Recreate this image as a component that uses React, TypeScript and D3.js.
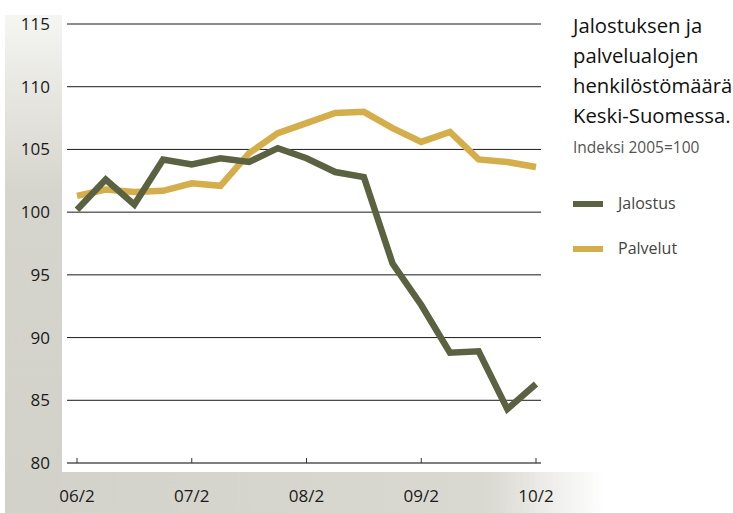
import React from "react";
import * as d3 from "d3";

const quarters = [
  "06/2","06/3","06/4","07/1","07/2","07/3","07/4","08/1","08/2","08/3","08/4","09/1","09/2","09/3","09/4","10/1","10/2",
];
const jalostus = [100.2, 102.6, 100.6, 104.2, 103.8, 104.3, 104.0, 105.1, 104.3, 103.2, 102.8, 95.9, 92.6, 88.8, 88.9, 84.3, 86.3];
const palvelut = [101.3, 101.8, 101.6, 101.7, 102.3, 102.1, 104.7, 106.3, 107.1, 107.9, 108.0, 106.7, 105.6, 106.4, 104.2, 104.0, 103.6];
const yTicks = [80, 85, 90, 95, 100, 105, 110, 115];
const xTickLabels = ["06/2", "07/2", "08/2", "09/2", "10/2"];
const titleLines = ["Jalostuksen ja", "palvelualojen", "henkilöstömäärä", "Keski-Suomessa."];
const subtitle = "Indeksi 2005=100";
const seriesNames = ["Jalostus", "Palvelut"];
const colors = ["#5b6242", "#d5ae4c"];

const W = 733, H = 513;
const FONT = "'Open Sans', 'Noto Sans', sans-serif";

export default function App() {
  const x = d3.scaleLinear().domain([0, quarters.length - 1]).range([77, 536]);
  const y = d3.scaleLinear().domain([80, 115]).range([463, 24]);
  const line = d3
    .line<number>()
    .x((_, i) => x(i))
    .y((d) => y(d))
    .curve(d3.curveLinear);
  const series = [jalostus, palvelut];
  return (
    <svg width={W} height={H} style={{ position: "absolute", left: 0, top: 0, fontFamily: FONT }}>
      <defs>
        <linearGradient id="leftg" x1="0" y1="0" x2="0" y2="1">
          <stop offset="0" stopColor="#f5f5f2" />
          <stop offset="0.35" stopColor="#d6d5cd" />
          <stop offset="1" stopColor="#d3d2ca" />
        </linearGradient>
        <linearGradient id="botg" x1="0" y1="0" x2="1" y2="0">
          <stop offset="0" stopColor="#d3d2ca" />
          <stop offset="0.8" stopColor="#d9d8d1" />
          <stop offset="1" stopColor="#ffffff" />
        </linearGradient>
      </defs>
      <rect x={5} y={15} width={57} height={H - 15} fill="url(#leftg)" />
      <rect x={5} y={472} width={600} height={H - 472} fill="url(#botg)" />
      <rect x={5} y={472} width={57} height={H - 472} fill="#d3d2ca" />
      {yTicks.map((t) => (
        <g key={t}>
          <line x1={67} x2={541} y1={y(t)} y2={y(t)} stroke={t === 80 ? "#555" : "#1a1a1a"} strokeWidth={t === 80 ? 1.5 : 1} />
          <text x={50} y={y(t) + 6} textAnchor="end" fontSize={17} fill="#1a1a1a">
            {t}
          </text>
        </g>
      ))}
      {xTickLabels.map((lab) => {
        const i = quarters.indexOf(lab);
        return (
          <g key={lab}>
            <line x1={x(i)} x2={x(i)} y1={463} y2={458} stroke="#333" strokeWidth={1} />
            <text x={x(i)} y={502} textAnchor="middle" fontSize={17} fill="#1a1a1a">
              {lab}
            </text>
          </g>
        );
      })}
      {series.map((s, k) => (
        <path key={k} d={line(s) || ""} fill="none" stroke={colors[k]} strokeWidth={6.5} strokeLinejoin="miter" strokeLinecap="butt" />
      )).reverse()}
      {titleLines.map((t, i) => (
        <text key={t} x={573} y={33 + i * 30} fontSize={20.3} fill="#111">
          {t}
        </text>
      ))}
      <text x={573} y={153} fontSize={15.5} fill="#555">
        {subtitle}
      </text>
      {seriesNames.map((n, k) => (
        <g key={n}>
          <line x1={573} x2={603} y1={204 + k * 45} y2={204 + k * 45} stroke={colors[k]} strokeWidth={6} />
          <text x={618} y={209 + k * 45} fontSize={16} fill="#444">
            {n}
          </text>
        </g>
      ))}
    </svg>
  );
}
